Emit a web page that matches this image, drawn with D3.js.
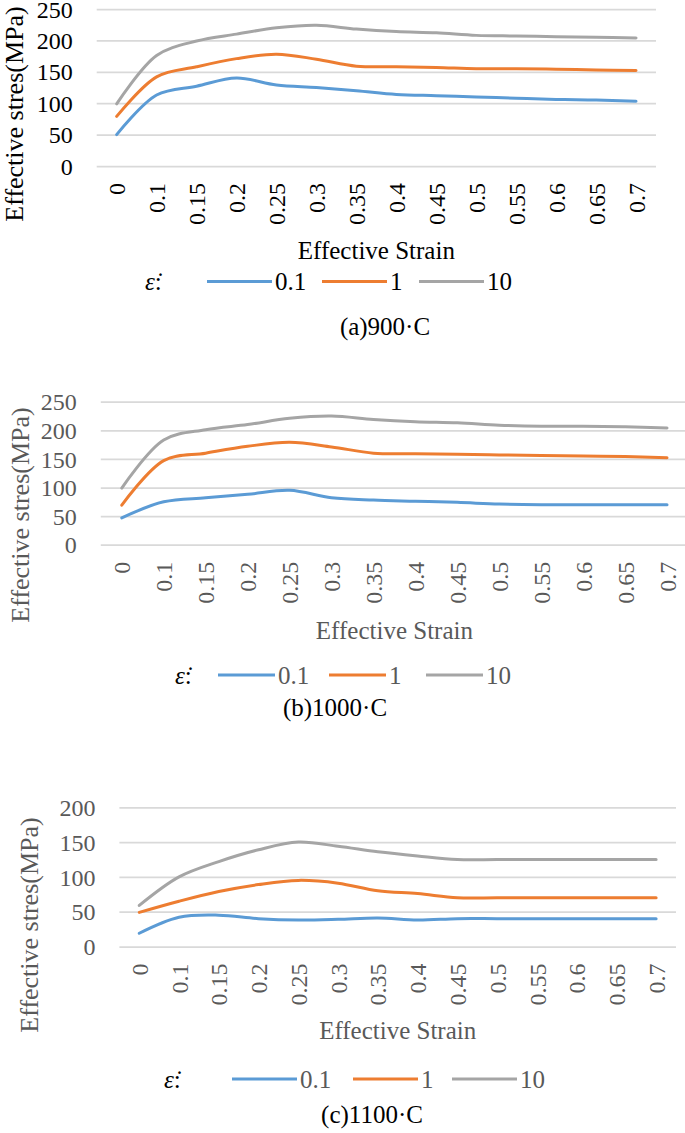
<!DOCTYPE html>
<html>
<head>
<meta charset="utf-8">
<script src="https://cdn.jsdelivr.net/npm/d3@7"></script>
</head>
<body style="margin:0">
<svg id="chart" width="685" height="1133" font-family="Liberation Serif" style="font-family:'Liberation Serif';display:block;background:#fff"></svg>
<script>
// ---------- data ----------
const strainLabels = ["0", "0.1", "0.15", "0.2", "0.25", "0.3", "0.35", "0.4", "0.45", "0.5", "0.55", "0.6", "0.65", "0.7"];
const rateLabels = ["0.1", "1", "10"];
const seriesColors = ["#5B9BD5", "#ED7D31", "#A5A5A5"];

const yTicksA = [0, 50, 100, 150, 200, 250];
const yTicksB = [0, 50, 100, 150, 200, 250];
const yTicksC = [0, 50, 100, 150, 200];

// (a) 900 C
const a_rate01 = [50, 113, 127, 140, 129, 125, 120, 114, 112, 110, 108, 106, 105, 103];
const a_rate1  = [79, 142, 158, 171, 178, 170, 159, 158, 157, 155, 155, 154, 153, 152];
const a_rate10 = [99, 176, 199, 210, 220, 224, 218, 214, 212, 208, 207, 206, 205, 204];
// (b) 1000 C
const b_rate01 = [47, 75, 82, 88, 95, 82, 78, 76, 74, 71, 70, 70, 70, 70];
const b_rate1  = [69, 147, 160, 172, 179, 171, 160, 159, 158, 157, 156, 155, 154, 152];
const b_rate10 = [99, 183, 201, 210, 221, 225, 219, 215, 213, 209, 207, 207, 206, 204];
// (c) 1100 C
const c_rate01 = [19, 42, 45, 40, 38, 39, 41, 38, 40, 40, 40, 40, 40, 40];
const c_rate1  = [49, 65, 79, 89, 95, 91, 80, 76, 70, 70, 70, 70, 70, 70];
const c_rate10 = [59, 100, 122, 139, 150, 144, 136, 130, 125, 125, 125, 125, 125, 125];

const xTitle = "Effective Strain";
const yTitle = "Effective stres(MPa)";
const captions = ["(a)900·C", "(b)1000·C", "(c)1100·C"];

// ---------- layout ----------
const panels = [
  { series: [a_rate01, a_rate1, a_rate10], ticks: yTicksA, yMax: 250, caption: captions[0],
    x0: 96.7, x1: 656, yTop: 9, yBot: 166, textColor: "#000",
    yTitleX: 14, yTitleY: 114, xTitleY: 259, capX: 385, capY: 335,
    legY: 281.5, legEps: 145, legLines: [207, 322, 419], legLen: 65 },
  { series: [b_rate01, b_rate1, b_rate10], ticks: yTicksB, yMax: 250, caption: captions[1],
    x0: 100.8, x1: 688, yTop: 401.7, yBot: 544.7, textColor: "#595959",
    yTitleX: 20, yTitleY: 515, xTitleY: 639, capX: 335, capY: 716,
    legY: 675, legEps: 175, legLines: [218, 329, 426], legLen: 57 },
  { series: [c_rate01, c_rate1, c_rate10], ticks: yTicksC, yMax: 200, caption: captions[2],
    x0: 119.4, x1: 676, yTop: 807.3, yBot: 946.5, textColor: "#595959",
    yTitleX: 29, yTitleY: 925, xTitleY: 1039, capX: 372, capY: 1123,
    legY: 1079, legEps: 164, legLines: [232, 353, 452], legLen: 65 }
];

const svg = d3.select("#chart");
const FONT = '"Liberation Serif"';
const tickFont = 24, titleFont = 25, yTitleFont = 26;

function addText(size, color) {
  return svg.append("text").style("font-family", FONT).style("font-size", size + "px").attr("fill", color);
}

panels.forEach(p => {
  const x = d3.scalePoint().domain(strainLabels).range([p.x0, p.x1]).padding(0.5);
  const y = d3.scaleLinear().domain([0, p.yMax]).range([p.yBot, p.yTop]);

  // gridlines + y tick labels via axis
  const yAxis = d3.axisLeft(y).tickValues(p.ticks).tickSize(-(p.x1 - p.x0)).tickPadding(24).tickFormat(d3.format("d"));
  const ya = svg.append("g").attr("transform", `translate(${p.x0},0)`).call(yAxis)
    .attr("font-family", "Liberation Serif").attr("font-size", tickFont);
  ya.select(".domain").remove();
  ya.selectAll(".tick line").attr("stroke", "#D9D9D9").attr("stroke-width", 1.75);
  ya.selectAll(".tick text").style("font-family", FONT).style("font-size", tickFont + "px")
    .attr("fill", p.textColor).attr("dy", "0.34em");

  // x tick labels (rotated)
  const xAxis = d3.axisBottom(x).tickSize(0).tickPadding(0);
  const xa = svg.append("g").attr("transform", `translate(0,${p.yBot})`).call(xAxis)
    .attr("font-family", "Liberation Serif").attr("font-size", tickFont);
  xa.select(".domain").remove();
  xa.selectAll(".tick text").style("font-family", FONT).style("font-size", tickFont + "px")
    .attr("fill", p.textColor)
    .attr("text-anchor", "end")
    .attr("transform", "translate(0,17) rotate(-90)")
    .attr("x", 0).attr("y", 0).attr("dy", "0.34em");

  // lines
  const line = d3.line().x((d, i) => x(strainLabels[i])).y(d => y(d)).curve(d3.curveCatmullRom.alpha(0.5));
  p.series.forEach((s, i) => {
    svg.append("path").datum(s).attr("d", line).attr("fill", "none")
      .attr("stroke", seriesColors[i]).attr("stroke-width", 3).attr("stroke-linecap", "round").attr("stroke-linejoin", "round");
  });

  // axis titles
  addText(titleFont, p.textColor)
    .attr("x", (p.x0 + p.x1) / 2).attr("y", p.xTitleY).attr("text-anchor", "middle").text(xTitle);
  addText(yTitleFont, p.textColor)
    .attr("transform", `translate(${p.yTitleX},${p.yTitleY}) rotate(-90)`)
    .attr("text-anchor", "middle").attr("dy", "0.34em").text(yTitle);

  // legend
  const eps = addText(titleFont, "#000").attr("x", p.legEps).attr("y", p.legY).attr("dy", "0.34em");
  eps.append("tspan").style("font-style", "italic").text("ε̇");
  eps.append("tspan").text(":");
  rateLabels.forEach((r, i) => {
    const lx = p.legLines[i];
    svg.append("line").attr("x1", lx).attr("x2", lx + p.legLen).attr("y1", p.legY).attr("y2", p.legY)
      .attr("stroke", seriesColors[i]).attr("stroke-width", 3);
    addText(titleFont, p.textColor).attr("x", lx + p.legLen + 3).attr("y", p.legY).attr("dy", "0.34em").text(r);
  });

  // caption
  addText(titleFont, "#000").attr("x", p.capX).attr("y", p.capY).attr("text-anchor", "middle").text(p.caption);
});
</script>
</body>
</html>
